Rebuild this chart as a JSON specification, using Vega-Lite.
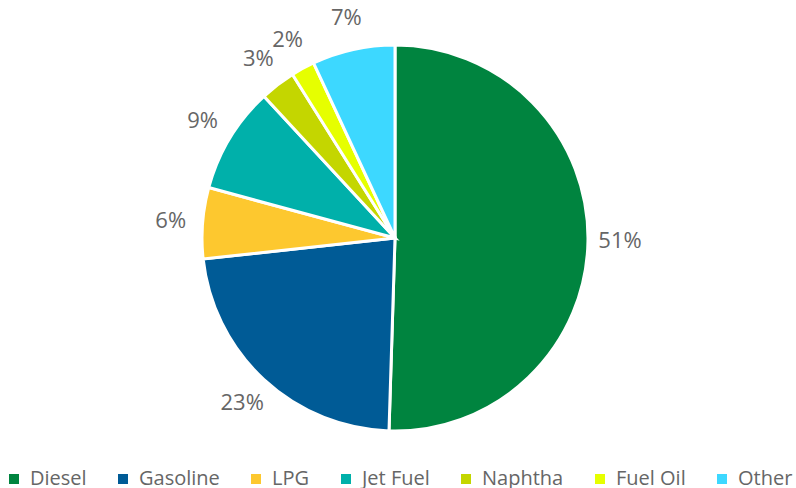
{
  "$schema": "https://vega.github.io/schema/vega-lite/v6.json",
  "autosize": "none",
  "width": 790,
  "height": 476,
  "padding": {"left": 0, "top": 0, "right": 6, "bottom": 12},
  "background": "white",
  "data": {"values": [
    {"fuel": "Diesel", "share": 0.51, "idx": 1},
    {"fuel": "Gasoline", "share": 0.23, "idx": 2},
    {"fuel": "LPG", "share": 0.06, "idx": 3},
    {"fuel": "Jet Fuel", "share": 0.09, "idx": 4},
    {"fuel": "Naphtha", "share": 0.03, "idx": 5},
    {"fuel": "Fuel Oil", "share": 0.02, "idx": 6},
    {"fuel": "Other", "share": 0.07, "idx": 7}
  ]},
  "encoding": {
    "theta": {"field": "share", "type": "quantitative", "stack": true},
    "order": {"field": "idx", "type": "quantitative"}
  },
  "layer": [
    {
      "mark": {"type": "arc", "outerRadius": 193, "stroke": "white", "strokeWidth": 3},
      "encoding": {
        "color": {
          "field": "fuel", "type": "nominal",
          "scale": {
            "domain": ["Diesel", "Gasoline", "LPG", "Jet Fuel", "Naphtha", "Fuel Oil", "Other"],
            "range": ["#00843f", "#005b96", "#fdc82f", "#00b0aa", "#c4d600", "#e6ff00", "#3dd8ff"]
          },
          "legend": {
            "title": null,
            "orient": "none",
            "legendX": 4,
            "legendY": 469,
            "direction": "horizontal",
            "symbolType": "square",
            "symbolSize": 100,
            "symbolStrokeWidth": 0,
            "labelFontSize": 20,
            "labelFont": "Open Sans",
            "labelColor": "#666666",
            "labelOffset": 6,
            "columnPadding": 26
          }
        }
      }
    },
    {
      "mark": {"type": "text", "radius": 225, "fontSize": 22, "font": "Open Sans", "color": "#666666"},
      "encoding": {"text": {"field": "share", "type": "quantitative", "format": ".0%"}}
    }
  ]
}
